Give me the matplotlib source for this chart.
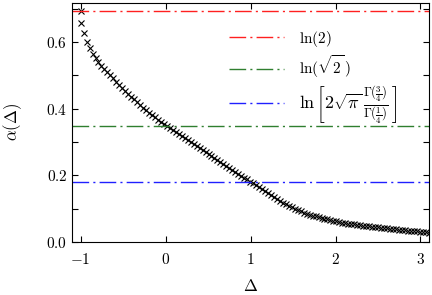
import numpy as np
import matplotlib
matplotlib.use("Agg")
import matplotlib.pyplot as plt
from matplotlib.ticker import FixedLocator, MultipleLocator, FuncFormatter

plt.rcParams['mathtext.fontset'] = 'cm'
plt.rcParams['font.family'] = 'serif'
plt.rcParams['font.serif'] = ['DejaVu Serif']

# numerical data
delta = [-1.000, -0.990, -0.965, -0.930, -0.895, -0.860, -0.825, -0.790, -0.755, -0.720,
         -0.685, -0.650, -0.615, -0.580, -0.545, -0.510, -0.475, -0.440, -0.405, -0.370,
         -0.335, -0.300, -0.265, -0.230, -0.195, -0.160, -0.125, -0.090, -0.055, -0.020,
         0.015, 0.050, 0.085, 0.120, 0.155, 0.190, 0.225, 0.260, 0.295, 0.330,
         0.365, 0.400, 0.435, 0.470, 0.505, 0.540, 0.575, 0.610, 0.645, 0.680,
         0.715, 0.750, 0.785, 0.820, 0.855, 0.890, 0.925, 0.960, 0.995, 1.030,
         1.065, 1.100, 1.135, 1.170, 1.205, 1.240, 1.275, 1.310, 1.345, 1.380,
         1.415, 1.450, 1.485, 1.520, 1.555, 1.590, 1.625, 1.660, 1.695, 1.730,
         1.765, 1.800, 1.835, 1.870, 1.905, 1.940, 1.975, 2.010, 2.045, 2.080,
         2.115, 2.150, 2.185, 2.220, 2.255, 2.290, 2.325, 2.360, 2.395, 2.430,
         2.465, 2.500, 2.535, 2.570, 2.605, 2.640, 2.675, 2.710, 2.745, 2.780,
         2.815, 2.850, 2.885, 2.920, 2.955, 2.990, 3.025, 3.060, 3.095]
alpha = [0.693, 0.658, 0.628, 0.600, 0.581, 0.565, 0.551, 0.540, 0.529, 0.519,
         0.509, 0.500, 0.491, 0.481, 0.472, 0.463, 0.454, 0.445, 0.436, 0.428,
         0.419, 0.411, 0.403, 0.396, 0.388, 0.381, 0.374, 0.367, 0.360, 0.354,
         0.347, 0.341, 0.335, 0.329, 0.323, 0.317, 0.312, 0.306, 0.300, 0.294,
         0.288, 0.282, 0.276, 0.270, 0.264, 0.258, 0.252, 0.246, 0.240, 0.234,
         0.229, 0.223, 0.217, 0.211, 0.205, 0.199, 0.193, 0.188, 0.181, 0.176,
         0.170, 0.164, 0.158, 0.152, 0.146, 0.140, 0.134, 0.129, 0.123, 0.118,
         0.113, 0.108, 0.104, 0.100, 0.096, 0.092, 0.088, 0.085, 0.082, 0.079,
         0.077, 0.075, 0.072, 0.070, 0.068, 0.066, 0.064, 0.062, 0.060, 0.058,
         0.057, 0.055, 0.054, 0.053, 0.051, 0.050, 0.049, 0.048, 0.047, 0.046,
         0.045, 0.044, 0.043, 0.042, 0.041, 0.040, 0.039, 0.038, 0.037, 0.036,
         0.035, 0.034, 0.034, 0.033, 0.032, 0.031, 0.030, 0.029, 0.028]

# reference levels
levels = [0.6931, 0.3466, 0.1808]
level_labels = [r'$\ln(2)$', r'$\ln(\sqrt{2}\,)$',
                r'$\ln\left[2\sqrt{\pi}\,\frac{\Gamma(\frac{3}{4})}{\Gamma(\frac{1}{4})}\,\right]$']
level_colors = ['#ff2020', '#2f7f2f', '#2020ff']

xticks = [-1, 0, 1, 2, 3]
yticks = [0.0, 0.2, 0.4, 0.6]

fig = plt.figure(figsize=(4.32, 2.95), dpi=100)
ax = fig.add_axes([0.167, 0.18, 0.826, 0.81])

ax.plot(delta, alpha, ls='none', marker='x', ms=4.2, mew=0.8, color='black')

for lev, lab, col in zip(levels, level_labels, level_colors):
    ax.axhline(lev, color=col, lw=1.0, ls=(0, (12, 3, 1.5, 3)), label=lab)

ax.set_xlim(-1.1, 3.1)
ax.set_ylim(0, 0.717)
ax.xaxis.set_major_locator(FixedLocator(xticks))
ax.yaxis.set_major_locator(FixedLocator(yticks))
ax.yaxis.set_minor_locator(MultipleLocator(0.1))
ax.xaxis.set_major_formatter(FuncFormatter(lambda v, p: r'$%d$' % round(v)))
ax.yaxis.set_major_formatter(FuncFormatter(lambda v, p: r'$%.1f$' % v))
ax.tick_params(which='both', direction='in', top=True, right=True, labelsize=11)
ax.tick_params(which='major', length=4, width=0.8)
ax.tick_params(which='minor', length=4, width=0.8)
ax.tick_params(axis='x', pad=7)

ax.set_xlabel(r'$\Delta$', fontsize=12, labelpad=8)
ax.set_ylabel(r'$\alpha(\Delta)$', fontsize=12, labelpad=16)

leg = ax.legend(loc='upper left', bbox_to_anchor=(0.40, 0.95), frameon=False, fontsize=11,
                handlelength=3.6, handletextpad=1.0, labelspacing=0.3)
leg.get_texts()[2].set_fontsize(13)

fig.savefig('out.png', dpi=100)
